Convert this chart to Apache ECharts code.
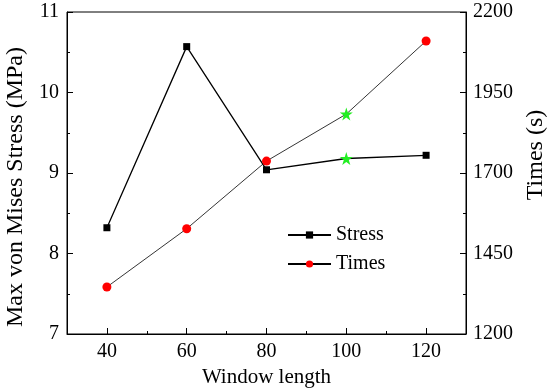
<!DOCTYPE html>
<html><head><meta charset="utf-8">
<script src="https://cdn.jsdelivr.net/npm/echarts@6/dist/echarts.min.js"></script>
<style>html,body{margin:0;padding:0;background:#fff}#c{width:550px;height:392px}</style>
</head><body><div id="c"></div>
<script>
const windowLengths = [40, 60, 80, 100, 120];
const stress = [8.32, 10.57, 9.04, 9.18, 9.22];
const times = [1346, 1527, 1737, 1883, 2110];
const highlightIndex = 3;
const xTicks = [40, 60, 80, 100, 120];
const xMinorTicks = [50, 70, 90, 110];
const leftTicks = [7, 8, 9, 10, 11];
const rightTicks = [1200, 1450, 1700, 1950, 2200];
const rightMinorTicks = [1325, 1575, 1825, 2075];

const FONT = 'Liberation Serif';
const STAR = 'path://M50 0 L61.2 34.5 L97.5 34.5 L68.2 55.9 L79.4 90.5 L50 69.1 L20.6 90.5 L31.8 55.9 L2.5 34.5 L38.8 34.5 Z';

function build(vals) {
  return windowLengths.map((x, i) => i === highlightIndex
    ? { value: [x, vals[i]], symbol: STAR, symbolSize: 13, itemStyle: { color: '#22ee22' } }
    : [x, vals[i]]);
}

const chart = echarts.init(document.getElementById('c'));
const lab = { fontFamily: FONT, fontSize: 20, color: '#000', formatter: v => String(v) };
chart.setOption({
  animation: false,
  grid: { left: 67, right: 84, top: 12, bottom: 58, show: true, borderColor: '#000', borderWidth: 1,
          containLabel: false, outerBoundsMode: 'none' },
  legend: {
    orient: 'vertical', left: 282, top: 220, itemWidth: 43, itemHeight: 9, itemGap: 9,
    textStyle: { fontFamily: FONT, fontSize: 20, color: '#000' },
    data: ['Stress', 'Times']
  },
  xAxis: [{
    type: 'value', min: 30, max: 130, position: 'bottom',
    name: 'Window length', nameLocation: 'middle', nameGap: 33,
    nameTextStyle: { fontFamily: FONT, fontSize: 21, color: '#000' },
    axisLine: { lineStyle: { color: '#000', width: 1 } },
    axisTick: { inside: true, length: 6, customValues: xTicks, lineStyle: { color: '#000' } },
    axisLabel: { ...lab, margin: 8, customValues: xTicks },
    splitLine: { show: false }
  }, {
    type: 'value', min: 30, max: 130, position: 'bottom',
    axisLine: { show: false },
    axisTick: { inside: true, length: 3, customValues: xMinorTicks, lineStyle: { color: '#000' } },
    axisLabel: { show: false }, splitLine: { show: false }
  }],
  yAxis: [{
    type: 'value', min: 7, max: 11, interval: 1, position: 'left',
    name: 'Max von Mises Stress (MPa)', nameLocation: 'middle', nameGap: 39,
    nameTextStyle: { fontFamily: FONT, fontSize: 24, color: '#000', padding: [0, 28, 0, 0] },
    axisLine: { show: true, lineStyle: { color: '#000' } },
    axisTick: { inside: true, length: 6, lineStyle: { color: '#000' } },
    minorTick: { show: true, splitNumber: 2, length: 3, lineStyle: { color: '#000' } },
    axisLabel: { ...lab, margin: 8 },
    splitLine: { show: false }
  }, {
    type: 'value', min: 1200, max: 2200, position: 'right',
    name: 'Times (s)', nameLocation: 'middle', nameGap: 57,
    nameTextStyle: { fontFamily: FONT, fontSize: 24, color: '#000', padding: [0, 0, 0, 36] },
    axisLine: { show: true, lineStyle: { color: '#000' } },
    axisTick: { inside: true, length: 6, customValues: rightTicks, lineStyle: { color: '#000' } },
    axisLabel: { ...lab, margin: 7, customValues: rightTicks },
    splitLine: { show: false }
  }, {
    type: 'value', min: 1200, max: 2200, position: 'right',
    axisLine: { show: false },
    axisTick: { inside: true, length: 3, customValues: rightMinorTicks, lineStyle: { color: '#000' } },
    axisLabel: { show: false }, splitLine: { show: false }
  }],
  series: [{
    name: 'Stress', type: 'line', xAxisIndex: 0, yAxisIndex: 0,
    symbol: 'rect', symbolSize: 7,
    itemStyle: { color: '#000' }, lineStyle: { color: '#000', width: 1.3 },
    data: build(stress)
  }, {
    name: 'Times', type: 'line', xAxisIndex: 0, yAxisIndex: 1,
    symbol: 'circle', symbolSize: 9,
    itemStyle: { color: '#ff0000' }, lineStyle: { color: '#000', width: 0.8 },
    data: build(times)
  }]
});
</script></body></html>
